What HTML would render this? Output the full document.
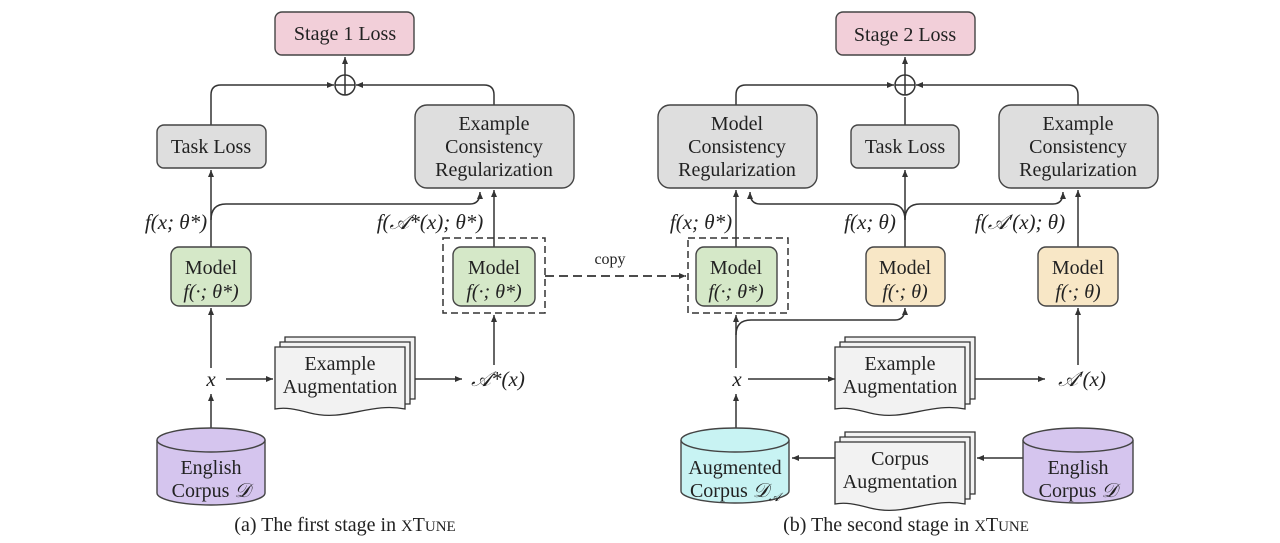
<!DOCTYPE html>
<html><head><meta charset="utf-8"><style>
html,body{margin:0;padding:0;background:#fff;}
svg{display:block;}
text{font-family:"Liberation Serif",serif;fill:#222;}
.m{font-style:italic;}
</style></head><body>
<svg width="1280" height="543" viewBox="0 0 1280 543" xmlns="http://www.w3.org/2000/svg">
<defs>
<marker id="a" markerWidth="8" markerHeight="8" refX="7" refY="4" orient="auto" markerUnits="userSpaceOnUse">
<path d="M0,1 L7,4 L0,7 Z" fill="#333"/></marker>
<g id="doc">
<path d="M10,-10 h130 v62 h-130 Z" fill="#f2f2f2" stroke="#333" stroke-width="1.3"/>
<path d="M5,-5 h130 v62 h-130 Z" fill="#f2f2f2" stroke="#333" stroke-width="1.3"/>
<path d="M0,0 h130 v62 C95,55 70,75 35,66 C20,62 10,60 0,62 Z" fill="#f2f2f2" stroke="#333" stroke-width="1.3"/>
</g>
</defs>
<g stroke="#333" stroke-width="1.5" fill="none">
<line x1="345" y1="75" x2="345" y2="57" marker-end="url(#a)"/>
<path d="M211,125 V95 Q211,85 221,85 H334" marker-end="url(#a)"/>
<path d="M494,105 V95 Q494,85 484,85 H356" marker-end="url(#a)"/>
<line x1="211" y1="247" x2="211" y2="170" marker-end="url(#a)"/>
<path d="M211,220 Q211,204 226,204 H470 Q480,204 480,192" marker-end="url(#a)"/>
<line x1="494" y1="247" x2="494" y2="190" marker-end="url(#a)"/>
<line x1="211" y1="368" x2="211" y2="308" marker-end="url(#a)"/>
<line x1="211" y1="428" x2="211" y2="394" marker-end="url(#a)"/>
<line x1="226" y1="379" x2="273" y2="379" marker-end="url(#a)"/>
<line x1="414" y1="379" x2="462" y2="379" marker-end="url(#a)"/>
<line x1="494" y1="365" x2="494" y2="315" marker-end="url(#a)"/>
<line x1="545" y1="276" x2="686" y2="276" stroke-width="1.8" stroke-dasharray="9,5" marker-end="url(#a)"/>
<line x1="905" y1="75" x2="905" y2="57" marker-end="url(#a)"/>
<path d="M736,105 V95 Q736,85 746,85 H894" marker-end="url(#a)"/>
<path d="M1078,105 V95 Q1078,85 1068,85 H916" marker-end="url(#a)"/>
<line x1="905" y1="125" x2="905" y2="97"/>
<line x1="736" y1="247" x2="736" y2="190" marker-end="url(#a)"/>
<line x1="905" y1="247" x2="905" y2="170" marker-end="url(#a)"/>
<path d="M905,220 Q905,204 890,204 H760 Q750,204 750,192" marker-end="url(#a)"/>
<path d="M905,220 Q905,204 920,204 H1053 Q1063,204 1063,192" marker-end="url(#a)"/>
<line x1="1078" y1="247" x2="1078" y2="190" marker-end="url(#a)"/>
<line x1="736" y1="368" x2="736" y2="315" marker-end="url(#a)"/>
<path d="M736,335 Q736,320 751,320 H895 Q905,320 905,308" marker-end="url(#a)"/>
<line x1="736" y1="428" x2="736" y2="394" marker-end="url(#a)"/>
<line x1="748" y1="379" x2="835" y2="379" marker-end="url(#a)"/>
<line x1="975" y1="379" x2="1045" y2="379" marker-end="url(#a)"/>
<line x1="1078" y1="365" x2="1078" y2="308" marker-end="url(#a)"/>
<line x1="1023" y1="458" x2="977" y2="458" marker-end="url(#a)"/>
<line x1="835" y1="458" x2="792" y2="458" marker-end="url(#a)"/>
</g>
<g stroke="#333" stroke-width="1.5" fill="#fff">
<circle cx="345" cy="85" r="10"/><path d="M335,85 H355 M345,75 V95" fill="none"/>
<circle cx="905" cy="85" r="10"/><path d="M895,85 H915 M905,75 V95" fill="none"/>
</g>
<g stroke="#444" stroke-width="1.4">
<rect x="275" y="12" width="139" height="43" rx="7" fill="#f2cfd9"/>
<rect x="836" y="12" width="139" height="43" rx="7" fill="#f2cfd9"/>
<rect x="157" y="125" width="109" height="43" rx="7" fill="#dedede"/>
<rect x="415" y="105" width="159" height="83" rx="12" fill="#dedede"/>
<rect x="658" y="105" width="159" height="83" rx="12" fill="#dedede"/>
<rect x="851" y="125" width="108" height="43" rx="7" fill="#dedede"/>
<rect x="999" y="105" width="159" height="83" rx="12" fill="#dedede"/>
<rect x="171" y="247" width="80" height="59" rx="8" fill="#d5e8c8"/>
<rect x="453" y="247" width="82" height="59" rx="8" fill="#d5e8c8"/>
<rect x="696" y="247" width="81" height="59" rx="8" fill="#d5e8c8"/>
<rect x="866" y="247" width="79" height="59" rx="8" fill="#f8e7c6"/>
<rect x="1038" y="247" width="80" height="59" rx="8" fill="#f8e7c6"/>
</g>
<g stroke="#333" stroke-width="1.5" fill="none" stroke-dasharray="7,4">
<rect x="443" y="238" width="102" height="75"/>
<rect x="688" y="238" width="100" height="75"/>
</g>
<use href="#doc" x="275" y="347"/>
<use href="#doc" x="835" y="347"/>
<use href="#doc" x="835" y="442"/>
<g stroke="#444" stroke-width="1.4">
<path d="M157,440 V493 A54,12 0 0 0 265,493 V440" fill="#d5c5ee"/>
<ellipse cx="211" cy="440" rx="54" ry="12" fill="#d5c5ee"/>
<path d="M681,440 V491 A54,12 0 0 0 789,491 V440" fill="#c8f3f3"/>
<ellipse cx="735" cy="440" rx="54" ry="12" fill="#c8f3f3"/>
<path d="M1023,440 V491 A55,12 0 0 0 1133,491 V440" fill="#d5c5ee"/>
<ellipse cx="1078" cy="440" rx="55" ry="12" fill="#d5c5ee"/>
</g>
<g font-size="20" text-anchor="middle">
<text x="345" y="40">Stage 1 Loss</text>
<text x="905" y="41">Stage 2 Loss</text>
<text x="211" y="153">Task Loss</text>
<text x="905" y="153">Task Loss</text>
<text x="494" y="130">Example</text><text x="494" y="153">Consistency</text><text x="494" y="176">Regularization</text>
<text x="737" y="130">Model</text><text x="737" y="153">Consistency</text><text x="737" y="176">Regularization</text>
<text x="1078" y="130">Example</text><text x="1078" y="153">Consistency</text><text x="1078" y="176">Regularization</text>
<text x="211" y="274">Model</text><text class="m" x="211" y="298">f(·; θ*)</text>
<text x="494" y="274">Model</text><text class="m" x="494" y="298">f(·; θ*)</text>
<text x="736" y="274">Model</text><text class="m" x="736" y="298">f(·; θ*)</text>
<text x="905" y="274">Model</text><text class="m" x="905" y="298">f(·; θ)</text>
<text x="1078" y="274">Model</text><text class="m" x="1078" y="298">f(·; θ)</text>
<text x="340" y="370">Example</text><text x="340" y="393">Augmentation</text>
<text x="900" y="370">Example</text><text x="900" y="393">Augmentation</text>
<text x="900" y="465">Corpus</text><text x="900" y="488">Augmentation</text>
<text x="211" y="474">English</text><text x="211" y="497">Corpus <tspan class="m">𝒟</tspan></text>
<text x="735" y="474">Augmented</text><text x="735" y="497">Corpus <tspan class="m">𝒟</tspan><tspan font-size="12" class="m" dy="4">𝒜</tspan></text>
<text x="1078" y="474">English</text><text x="1078" y="497">Corpus <tspan class="m">𝒟</tspan></text>
<text x="610" y="264" font-size="16">copy</text>
<text class="m" x="211" y="386" font-size="21">x</text>
<text class="m" x="737" y="386" font-size="21">x</text>
<text class="m" x="176" y="229" font-size="21">f(x; θ*)</text>
<text class="m" x="430" y="229" font-size="21">f(𝒜*(x); θ*)</text>
<text class="m" x="701" y="229" font-size="21">f(x; θ*)</text>
<text class="m" x="870" y="229" font-size="21">f(x; θ)</text>
<text class="m" x="1020" y="229" font-size="21">f(𝒜′(x); θ)</text>
<text class="m" x="498" y="386" font-size="21">𝒜*(x)</text>
<text class="m" x="1082" y="386" font-size="21">𝒜′(x)</text>
<text x="345" y="531" font-size="20">(a) The first stage in <tspan font-size="16">X</tspan>T<tspan font-size="15">UNE</tspan></text>
<text x="906" y="531" font-size="20">(b) The second stage in <tspan font-size="16">X</tspan>T<tspan font-size="15">UNE</tspan></text>
</g>
</svg>
</body></html>
